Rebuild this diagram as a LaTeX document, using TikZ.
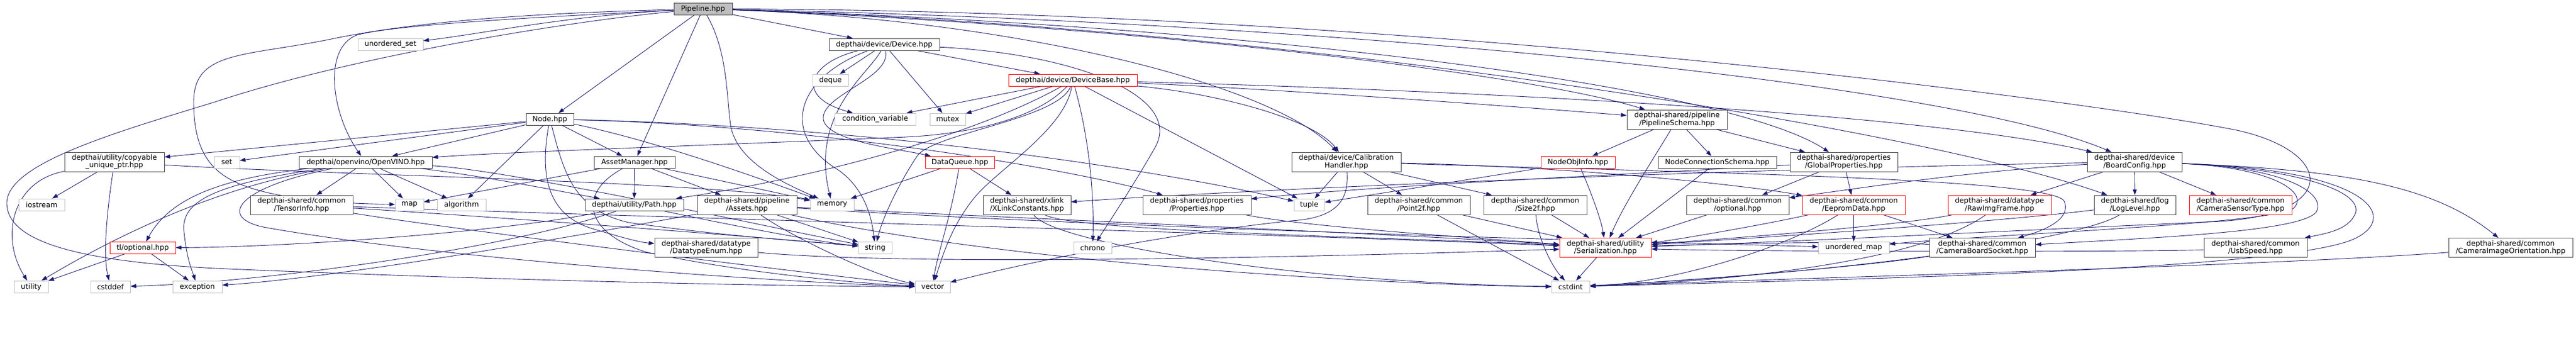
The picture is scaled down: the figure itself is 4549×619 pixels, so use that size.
\documentclass[tikz,border=0pt]{standalone}
\usepackage{fontspec}
\setmainfont{DejaVu Sans}
\usetikzlibrary{arrows.meta}
\definecolor{edgecol}{HTML}{191970}
\definecolor{sysgray}{HTML}{BFBFBF}
\pgfdeclarelayer{bg}
\pgfsetlayers{bg,main}
\begin{document}
\begin{tikzpicture}[x=1pt,y=-1pt,
  box/.style={draw=black!75, fill=white, line width=0.9pt, inner sep=0pt, minimum height=21pt,
    font=\fontsize{12.7}{12}\selectfont, align=center, text=black},
  sys/.style={box, draw=sysgray},
  redb/.style={box, draw=red},
  two/.style={minimum height=34pt},
  e/.style={draw=edgecol, line width=0.9pt, -{Triangle[length=10pt,width=7pt]}},
]
\useasboundingbox (0,0) rectangle (4549,619);
% nodes
\node[box,fill=sysgray,minimum width=103] (P) at (1241.5,15.5) {Pipeline.hpp};
\node[sys,minimum width=115] (us) at (689.5,78.5) {unordered\_set};
\node[box,minimum width=195] (dev) at (1561.5,78.5) {depthai/device/Device.hpp};
\node[sys,minimum width=63] (deque) at (1466.5,141.5) {deque};
\node[redb,minimum width=227] (dbase) at (1894.5,141.5) {depthai/device/DeviceBase.hpp};
\node[sys,minimum width=143] (cv) at (1545.5,210.5) {condition\_variable};
\node[sys,minimum width=63] (mutex) at (1673.5,210.5) {mutex};
\node[box,minimum width=84] (node) at (971,210.5) {Node.hpp};
\node[box,two,minimum width=177] (schema) at (2961.5,211) {depthai-shared/pipeline\\/PipelineSchema.hpp};
\node[box,two,minimum width=176] (copy) at (202,286) {depthai/utility/copyable\\\_unique\_ptr.hpp};
\node[sys,minimum width=45] (set) at (400.5,286.5) {set};
\node[box,minimum width=235] (ov) at (645.5,286.5) {depthai/openvino/OpenVINO.hpp};
\node[box,minimum width=143] (am) at (1120.5,286.5) {AssetManager.hpp};
\node[redb,minimum width=122] (dq) at (1695,286.5) {DataQueue.hpp};
\node[box,two,minimum width=193] (calib) at (2377.5,286) {depthai/device/Calibration\\Handler.hpp};
\node[redb,minimum width=131] (nodeobj) at (2786.5,286.5) {NodeObjInfo.hpp};
\node[box,minimum width=209] (nconn) at (3032.5,286.5) {NodeConnectionSchema.hpp};
\node[box,two,minimum width=190] (gprop) at (3256,286) {depthai-shared/properties\\/GlobalProperties.hpp};
\node[box,two,minimum width=167] (board) at (3769.5,286) {depthai-shared/device\\/BoardConfig.hpp};
\node[sys,minimum width=81] (iostream) at (73.5,361.5) {iostream};
\node[box,two,minimum width=181] (tinfo) at (532.5,362) {depthai-shared/common\\/TensorInfo.hpp};
\node[sys,minimum width=50] (map) at (723,361.5) {map};
\node[sys,minimum width=86] (algorithm) at (815,361.5) {algorithm};
\node[box,minimum width=174] (path) at (1120,361.5) {depthai/utility/Path.hpp};
\node[box,two,minimum width=176] (assets) at (1319,362) {depthai-shared/pipeline\\/Assets.hpp};
\node[sys,minimum width=77] (memory) at (1469.5,361.5) {memory};
\node[box,two,minimum width=155] (xlink) at (1813.5,362) {depthai-shared/xlink\\/XLinkConstants.hpp};
\node[box,two,minimum width=191] (props) at (2113.5,362) {depthai-shared/properties\\/Properties.hpp};
\node[sys,minimum width=54] (tuple) at (2312,361.5) {tuple};
\node[box,two,minimum width=181] (point) at (2505.5,362) {depthai-shared/common\\/Point2f.hpp};
\node[box,two,minimum width=182] (size) at (2711,362) {depthai-shared/common\\/Size2f.hpp};
\node[box,two,minimum width=181] (optional) at (3068.5,362) {depthai-shared/common\\/optional.hpp};
\node[redb,two,minimum width=181] (eeprom) at (3273.5,362) {depthai-shared/common\\/EepromData.hpp};
\node[redb,two,minimum width=182] (raw) at (3531,362) {depthai-shared/datatype\\/RawImgFrame.hpp};
\node[box,two,minimum width=144] (log) at (3770,362) {depthai-shared/log\\/LogLevel.hpp};
\node[redb,two,minimum width=181] (camsensor) at (3956.5,362) {depthai-shared/common\\/CameraSensorType.hpp};
\node[redb,minimum width=116] (tlopt) at (252,437.5) {tl/optional.hpp};
\node[box,two,minimum width=182] (dtenum) at (1247,437.5) {depthai-shared/datatype\\/DatatypeEnum.hpp};
\node[sys,minimum width=59] (string) at (1545.5,437.5) {string};
\node[sys,minimum width=67] (chrono) at (1929.5,437.5) {chrono};
\node[redb,two,minimum width=162] (serial) at (2835,437.5) {depthai-shared/utility\\/Serialization.hpp};
\node[sys,minimum width=125] (umap) at (3273.5,437.5) {unordered\_map};
\node[box,two,minimum width=187] (cbs) at (3500.5,437.5) {depthai-shared/common\\/CameraBoardSocket.hpp};
\node[box,two,minimum width=182] (usb) at (3983,437.5) {depthai-shared/common\\/UsbSpeed.hpp};
\node[box,two,minimum width=219] (cio) at (4433.5,437.5) {depthai-shared/common\\/CameraImageOrientation.hpp};
\node[sys,minimum width=60] (utility) at (55,506.5) {utility};
\node[sys,minimum width=70] (cstddef) at (195,506.5) {cstddef};
\node[sys,minimum width=87] (exception) at (348.5,506.5) {exception};
\node[sys,minimum width=62] (vector) at (1647,506.5) {vector};
\node[sys,minimum width=67] (cstdint) at (2773.5,506.5) {cstdint};

\begin{pgfonlayer}{bg}
\fill[white] (0,0) rectangle (4549,619);
% Pipeline
\draw[e] (P) .. controls (1000,28) and (850,60) .. (us);
\draw[e] (P) .. controls (1000,38) and (620,100) .. (380,180) .. controls (200,235) and (10,290) .. (12,360) .. controls (14,430) and (150,462) .. (380,474) .. controls (800,492) and (1300,505) .. (vector);
\draw[e] (P) .. controls (1000,22) and (760,32) .. (580,70) .. controls (430,100) and (342,90) .. (342,180) .. controls (342,290) and (390,322) .. (480,342) .. controls (560,358) and (640,360) .. (map);
\draw[e] (P) .. controls (1000,28) and (700,42) .. (630,62) .. controls (570,85) and (585,200) .. (ov);
\draw[e] (P) -- (node);
\draw[e] (P) -- (am);
\draw[e] (P) .. controls (1285,90) and (1283,170) .. (1290,220) .. controls (1300,290) and (1400,330) .. (memory);
\draw[e] (P) -- (dev);
\draw[e] (P) .. controls (1800,35) and (2250,150) .. (calib);
\draw[e] (P) .. controls (2000,45) and (2700,130) .. (schema);
\draw[e] (P) .. controls (2200,45) and (3050,150) .. (gprop);
\draw[e] (P) .. controls (2400,40) and (3450,150) .. (board);
\draw[e] (P) .. controls (2300,50) and (3400,230) .. (log);
\draw[e] (P) .. controls (2500,20) and (3700,180) .. (3950,230) .. controls (4130,270) and (4130,385) .. (3900,392) .. controls (3500,410) and (3100,430) .. (serial);
% Device
\draw[e] (dev) -- (deque);
\draw[e] (dev) .. controls (1430,110) and (1400,170) .. (cv);
\draw[e] (dev) -- (mutex);
\draw[e] (dev) -- (dbase);
\draw[e] (dev) .. controls (1575,140) and (1440,170) .. (1455,215) .. controls (1470,250) and (1580,262) .. (dq);
\draw[e] (dev) .. controls (1400,140) and (1380,240) .. (1480,300) .. controls (1530,335) and (1540,390) .. (string);
\draw[e] (dev) .. controls (1535,130) and (1430,200) .. (memory);
\draw[e] (dev) .. controls (1900,95) and (2090,170) .. (2040,260) .. controls (2000,330) and (1960,390) .. (chrono);
% DeviceBase
\draw[e] (dbase) -- (cv);
\draw[e] (dbase) -- (mutex);
\draw[e] (dbase) .. controls (1840,200) and (1740,235) .. (1600,242) .. controls (1300,255) and (900,268) .. (ov);
\draw[e] (dbase) .. controls (1870,210) and (1650,235) .. (1620,275) .. controls (1590,320) and (1560,380) .. (string);
\draw[e] (dbase) .. controls (1880,230) and (1760,300) .. (1720,350) .. controls (1680,400) and (1665,450) .. (vector);
\draw[e] (dbase) .. controls (1925,250) and (1932,350) .. (chrono);
\draw[e] (dbase) .. controls (2300,160) and (2700,190) .. (schema);
\draw[e] (dbase) .. controls (2150,165) and (2320,210) .. (calib);
\draw[e] (dbase) .. controls (2600,160) and (3400,200) .. (board);
\draw[e] (dbase) -- (tuple);
\draw[e] (dbase) .. controls (1700,250) and (1400,320) .. (path);
% Node
\draw[e] (node) -- (copy);
\draw[e] (node) -- (set);
\draw[e] (node) -- (ov);
\draw[e] (node) -- (algorithm);
\draw[e] (node) -- (am);
\draw[e] (node) .. controls (1140,245) and (1300,300) .. (memory);
\draw[e] (node) .. controls (1500,222) and (2000,290) .. (tuple);
\draw[e] (node) .. controls (1450,222) and (1900,300) .. (props);
\draw[e] (node) .. controls (955,300) and (960,380) .. (1050,405) .. controls (1100,420) and (1130,428) .. (dtenum);
\draw[e] (node) .. controls (995,300) and (1010,370) .. (1110,393) .. controls (1300,420) and (1450,428) .. (string);
% copyable
\draw[e] (copy) -- (iostream);
\draw[e] (copy) .. controls (188,380) and (182,450) .. (cstddef);
\draw[e] (copy) .. controls (20,320) and (0,420) .. (utility);
\draw[e] (copy) .. controls (600,310) and (1250,320) .. (memory);
% OpenVINO
\draw[e] (ov) -- (tinfo);
\draw[e] (ov) -- (map);
\draw[e] (ov) -- (algorithm);
\draw[e] (ov) .. controls (850,310) and (1000,340) .. (path);
\draw[e] (ov) .. controls (390,315) and (300,350) .. (tlopt);
\draw[e] (ov) .. controls (380,330) and (200,420) .. (utility);
\draw[e] (ov) .. controls (380,325) and (318,355) .. (325,410) .. controls (330,460) and (340,480) .. (exception);
\draw[e] (ov) .. controls (900,300) and (1350,400) .. (string);
\draw[e] (ov) .. controls (420,330) and (380,385) .. (470,402) .. controls (800,460) and (1400,500) .. (vector);
% TensorInfo
\draw[e] (tinfo) .. controls (1200,385) and (2300,415) .. (serial);
\draw[e] (tinfo) .. controls (900,385) and (1300,415) .. (string);
\draw[e] (tinfo) .. controls (800,405) and (1400,480) .. (vector);
% tl/optional
\draw[e] (tlopt) -- (utility);
\draw[e] (tlopt) -- (exception);
% AssetManager
\draw[e] (am) -- (path);
\draw[e] (am) -- (assets);
\draw[e] (am) -- (memory);
\draw[e] (am) -- (map);
\draw[e] (am) .. controls (1020,340) and (1030,410) .. (1140,445) .. controls (1300,480) and (1500,500) .. (vector);
% Path
\draw[e] (path) .. controls (1300,400) and (1450,428) .. (string);
\draw[e] (path) .. controls (900,410) and (500,437) .. (tlopt);
\draw[e] (path) .. controls (900,440) and (450,500) .. (cstddef);
% Assets
\draw[e] (assets) .. controls (1000,420) and (600,490) .. (exception);
\draw[e] (assets) .. controls (1800,385) and (2500,415) .. (serial);
\draw[e] (assets) -- (string);
\draw[e] (assets) .. controls (2000,405) and (3000,430) .. (umap);
\draw[e] (assets) .. controls (1400,420) and (1550,490) .. (vector);
\draw[e] (assets) .. controls (1800,470) and (2500,505) .. (cstdint);
% DataQueue
\draw[e] (dq) -- (xlink);
\draw[e] (dq) -- (memory);
\draw[e] (dq) .. controls (1680,380) and (1655,450) .. (vector);
% Calibration
\draw[e] (calib) -- (tuple);
\draw[e] (calib) -- (point);
\draw[e] (calib) -- (size);
\draw[e] (calib) .. controls (2800,295) and (3100,330) .. (eeprom);
\draw[e] (calib) .. controls (2382,350) and (2365,385) .. (2280,390) .. controls (2000,420) and (1750,480) .. (vector);
\draw[e] (calib) .. controls (3000,305) and (3620,315) .. (3645,355) .. controls (3660,390) and (3600,410) .. (cbs);
% NodeObjInfo, schema
\draw[e] (nodeobj) .. controls (2810,340) and (2828,390) .. (serial);
\draw[e] (nodeobj) -- (tuple);
\draw[e] (schema) -- (nodeobj);
\draw[e] (schema) -- (nconn);
\draw[e] (schema) .. controls (2920,280) and (2868,360) .. (serial);
\draw[e] (schema) -- (gprop);
\draw[e] (nconn) -- (serial);
% GlobalProperties
\draw[e] (gprop) -- (optional);
\draw[e] (gprop) -- (eeprom);
\draw[e] (gprop) .. controls (2800,312) and (2400,330) .. (props);
\draw[e] (optional) -- (serial);
% Eeprom, raw, log
\draw[e] (eeprom) -- (umap);
\draw[e] (eeprom) -- (cbs);
\draw[e] (eeprom) .. controls (3100,400) and (2950,425) .. (serial);
\draw[e] (eeprom) .. controls (3150,440) and (2950,500) .. (cstdint);
\draw[e] (raw) .. controls (3350,400) and (3000,425) .. (serial);
\draw[e] (raw) .. controls (3380,470) and (3000,500) .. (cstdint);
\draw[e] (log) .. controls (3500,395) and (3100,420) .. (serial);
\draw[e] (log) .. controls (3680,420) and (3300,480) .. (cstdint);
% BoardConfig
\draw[e] (board) .. controls (3000,300) and (2200,335) .. (xlink);
\draw[e] (board) .. controls (3500,300) and (3300,330) .. (optional);
\draw[e] (board) -- (raw);
\draw[e] (board) -- (log);
\draw[e] (board) -- (camsensor);
\draw[e] (board) .. controls (4020,295) and (4170,330) .. (4160,375) .. controls (4150,405) and (4110,412) .. (usb);
\draw[e] (board) .. controls (4150,300) and (4300,330) .. (cio);
\draw[e] (board) .. controls (4030,295) and (4110,340) .. (4090,375) .. controls (4060,410) and (3800,420) .. (cbs);
\draw[e] (board) .. controls (4010,295) and (4080,340) .. (4050,368) .. controls (4020,395) and (3500,415) .. (umap);
\draw[e] (board) .. controls (4200,300) and (4240,390) .. (4150,425) .. controls (4000,480) and (3200,495) .. (cstdint);
% lower
\draw[e] (cbs) .. controls (3300,425) and (3050,430) .. (serial);
\draw[e] (cbs) .. controls (3300,470) and (3000,495) .. (cstdint);
\draw[e] (usb) .. controls (3800,445) and (3100,445) .. (serial);
\draw[e] (cio) .. controls (4000,470) and (3200,490) .. (cstdint);
\draw[e] (xlink) .. controls (1860,430) and (2300,500) .. (cstdint);
\draw[e] (xlink) .. controls (1900,410) and (2500,420) .. (serial);
\draw[e] (props) .. controls (2300,400) and (2600,420) .. (serial);
\draw[e] (point) -- (serial);
\draw[e] (point) -- (cstdint);
\draw[e] (size) -- (serial);
\draw[e] (size) .. controls (2715,420) and (2740,470) .. (cstdint);
\draw[e] (dtenum) .. controls (1600,470) and (2300,455) .. (serial);
\draw[e] (serial) -- (cstdint);
\end{pgfonlayer}
\end{tikzpicture}
\end{document}
